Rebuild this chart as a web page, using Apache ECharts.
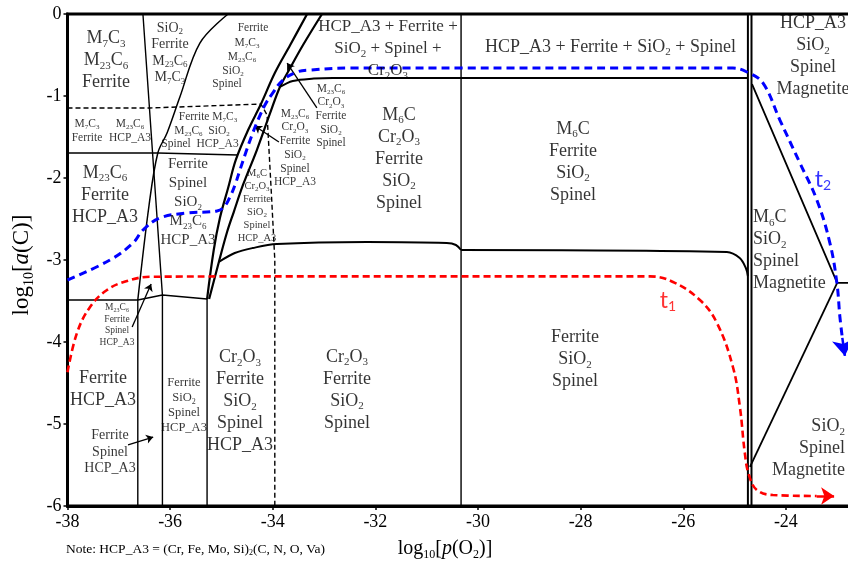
<!DOCTYPE html>
<html>
<head>
<meta charset="utf-8">
<script src="https://cdn.jsdelivr.net/npm/echarts@6/dist/echarts.min.js"></script>
<style>
  html, body { margin: 0; padding: 0; background: #fff; }
  #chart { width: 848px; height: 562px; }
</style>
</head>
<body>
<div id="chart"></div>
<script>
// ---- axis ticks ----
const xTicks = [-38, -36, -34, -32, -30, -28, -26, -24, -22];
const yTicks = [0, -1, -2, -3, -4, -5, -6];

// ---- phase boundaries: [log10 p(O2), log10 a(C)] ----
const wallPhaseA = [[-36.53, 0], [-36.15, -3.43], [-36.15, -6]];
const curvePhaseB = [[-34.87, 0], [-35.42, -0.354], [-35.81, -1.012], [-36.06, -1.451], [-36.24, -1.695], [-36.41, -2.329], [-36.63, -3.488]];
const wallPhaseB = [[-36.63, -3.488], [-36.63, -6]];
const bandLeft = [[-33.33, 0], [-33.66, -0.378], [-33.96, -0.72], [-34.23, -1.098], [-34.48, -1.415], [-34.72, -1.78], [-34.87, -2.122], [-35.03, -2.488], [-35.15, -2.878], [-35.28, -3.476]];
const bandRight = [[-33.04, 0], [-33.41, -0.378], [-33.65, -0.646], [-33.86, -0.89], [-34.05, -1.207], [-34.31, -1.659], [-34.58, -2.085], [-34.76, -2.415], [-34.89, -2.659], [-35.05, -3.024], [-35.24, -3.476]];
const edgeTop = [[-33.86, -0.89], [-33.61, -0.817], [-33.2, -0.788], [-32.83, -0.78], [-24.74, -0.78]];
const edgeMidLeft = [[-35.05, -3.024], [-34.74, -2.915], [-34.39, -2.854], [-33.92, -2.805], [-32.16, -2.78], [-30.61, -2.793], [-30.43, -2.817], [-30.33, -2.878]];
const edgeMidRight = [[-30.33, -2.878], [-25.15, -2.902], [-24.9, -2.976], [-24.78, -3.098], [-24.74, -3.195]];
const edgeLow = [[-38, -3.488], [-36.63, -3.488], [-36.15, -3.427], [-35.28, -3.476]];
const edgeUpper = [[-38, -1.695], [-36.24, -1.695], [-34.68, -1.72]];
const wallC = [[-35.28, -3.476], [-35.28, -6]];
const wallD = [[-30.33, 0], [-30.33, -6]];
const wallMagnetiteA = [[-24.74, 0], [-24.74, -6]];
const wallMagnetiteB = [[-24.67, 0], [-24.67, -6]];
const slopeUpper = [[-24.66, -0.854], [-23.0, -3.28], [-22, -3.28]];
const slopeLower = [[-23.0, -3.28], [-24.7, -5.524]];
const dashedEdge = [[-38, -1.146], [-36.39, -1.146], [-34.23, -1.098], [-34.11, -1.232], [-34.02, -2.268], [-33.96, -3.0], [-33.96, -6]];

// ---- process paths t1 and t2 ----
const pathT1 = [[-38, -4.37], [-37.815, -3.89], [-37.56, -3.573], [-37.23, -3.366], [-36.84, -3.256], [-36.39, -3.205], [-34.4, -3.2], [-26.65, -3.2], [-26.2, -3.268], [-25.675, -3.488], [-25.344, -3.768], [-25.032, -4.305], [-24.896, -4.793], [-24.8, -5.354], [-24.72, -5.622], [-24.565, -5.805], [-24.253, -5.866], [-23.4, -5.878]];
const tipT1 = [[-23.4, -5.878], [-23.06, -5.878]];
const pathT2 = [[-38, -3.244], [-37.172, -3.0], [-36.724, -2.793], [-36.529, -2.634], [-36.198, -2.488], [-35.672, -2.427], [-35.087, -2.402], [-34.95, -2.354], [-34.834, -2.232], [-34.736, -2.085], [-34.639, -1.902], [-34.522, -1.683], [-34.405, -1.476], [-34.288, -1.293], [-34.152, -1.11], [-34.015, -0.976], [-33.801, -0.805], [-33.528, -0.707], [-33.275, -0.683], [-32.495, -0.659], [-25.032, -0.659], [-24.76, -0.707], [-24.448, -0.841], [-24.117, -1.293], [-23.727, -1.817], [-23.396, -2.268], [-23.142, -2.793], [-23.006, -3.28], [-22.947, -3.695], [-22.9, -3.95]];
const tipT2 = [[-22.9, -3.95], [-22.85, -4.17]];
const pathNames = [[-26.3, -3.49, 't₁'], [-23.28, -2.02, 't₂']];

// ---- leader arrows [from, to] ----
const pointers = [
  [[-33.14, -1.146], [-33.72, -0.598]],
  [[-33.88, -1.561], [-34.35, -1.366]],
  [[-36.74, -3.817], [-36.37, -3.293]],
  [[-36.82, -5.256], [-36.33, -5.159]]
];

// ---- phase field labels [x, y, text] ----
const labelsLarge = [
  [-37.25, -0.567, 'M₇C₃\nM₂₃C₆\nFerrite'],
  [-37.27, -2.207, 'M₂₃C₆\nFerrite\nHCP_A3'],
  [-37.308, -4.573, 'Ferrite\nHCP_A3'],
  [-34.639, -4.726, 'Cr₂O₃\nFerrite\nSiO₂\nSpinel\nHCP_A3'],
  [-32.554, -4.585, 'Cr₂O₃\nFerrite\nSiO₂\nSpinel'],
  [-31.541, -1.768, 'M₆C\nCr₂O₃\nFerrite\nSiO₂\nSpinel'],
  [-28.15, -1.805, 'M₆C\nFerrite\nSiO₂\nSpinel'],
  [-28.111, -4.213, 'Ferrite\nSiO₂\nSpinel'],
  [-27.419, -0.402, 'HCP_A3 + Ferrite + SiO₂ + Spinel'],
  [-23.473, -0.518, 'HCP_A3\nSiO₂\nSpinel\nMagnetite']
];
const labelsLargeLeft = [[-24.643, -2.884, 'M₆C\nSiO₂\nSpinel\nMagnetite']];
const labelsLargeRight = [[-22.85, -5.299, 'SiO₂\nSpinel\nMagnetite']];
const labelsWide = [[-31.755, -0.421, 'HCP_A3 + Ferrite +\nSiO₂ + Spinel +\nCr₂O₃']];
const labelsMedium = [[-35.652, -2.299, 'Ferrite\nSpinel\nSiO₂\nM₂₃C₆\nHCP_A3']];
const labelsSmall = [
  [-36.003, -0.476, 'SiO₂\nFerrite\nM₂₃C₆\nM₇C₃'],
  [-37.172, -5.341, 'Ferrite\nSpinel\nHCP_A3']
];
const labelsSmaller = [[-35.73, -4.774, 'Ferrite\nSiO₂\nSpinel\nHCP_A3']];
const labelsTiny = [
  [-34.385, -0.171, 'Ferrite'],
  [-34.502, -0.354, 'M₇C₃'],
  [-34.6, -0.524, 'M₂₃C₆'],
  [-34.775, -0.695, 'SiO₂'],
  [-34.892, -0.854, 'Spinel'],
  [-37.62, -1.427, 'M₇C₃\nFerrite'],
  [-36.782, -1.427, 'M₂₃C₆\nHCP_A3'],
  [-35.262, -1.256, 'Ferrite M₇C₃'],
  [-35.379, -1.427, 'M₂₃C₆  SiO₂'],
  [-35.418, -1.585, 'Spinel  HCP_A3'],
  [-32.866, -1.244, 'M₂₃C₆\nCr₂O₃\nFerrite\nSiO₂\nSpinel'],
  [-33.567, -1.634, 'M₂₃C₆\nCr₂O₃\nFerrite\nSiO₂\nSpinel\nHCP_A3']
];
const labelsMicro = [[-34.307, -2.335, 'M₆C\nCr₂O₃\nFerrite\nSiO₂\nSpinel\nHCP_A3']];
const labelsNano = [[-37.035, -3.793, 'M₂₃C₆\nFerrite\nSpinel\nHCP_A3']];

const noteText = 'Note: HCP_A3 = (Cr, Fe, Mo, Si)₂(C, N, O, Va)';

// ---- helpers ----
const SERIF = '"Liberation Serif", "Times New Roman", serif';
const SANS = 'Lato, "Open Sans", sans-serif';
const SUBS = '₀₁₂₃₄₅₆₇₈₉';

// turn subscript digits into rich-text tokens
function toRich(text) {
  return text.split('\n').map(function (line) {
    let out = '', buf = '', mode = null;
    for (const ch of line) {
      const k = SUBS.indexOf(ch);
      const m = k >= 0 ? 's' : 'n';
      const c = k >= 0 ? String(k) : ch;
      if (m !== mode && buf) { out += '{' + mode + '|' + buf + '}'; buf = ''; }
      mode = m; buf += c;
    }
    if (buf) out += '{' + mode + '|' + buf + '}';
    return out;
  }).join('\n');
}

function richStyles(fs, lh, align, color, family) {
  const sub = Math.round(fs * 0.62);
  return {
    n: { fontSize: fs, lineHeight: lh, fontFamily: family, color: color, fill: color, align: align },
    i: { fontSize: fs, lineHeight: lh, fontFamily: family, color: color, fill: color, align: align, fontStyle: 'italic' },
    s: { fontSize: sub, lineHeight: sub, fontFamily: family, color: color, fill: color, align: align, verticalAlign: 'bottom' }
  };
}

function labelSeries(list, fs, lh, align, color, family) {
  return {
    type: 'scatter',
    silent: true,
    symbolSize: 1,
    z: 20,
    itemStyle: { color: 'transparent' },
    data: list.map(function (d) {
      const txt = toRich(d[2]);
      return {
        value: [d[0], d[1]],
        label: {
          show: true,
          position: 'inside',
          align: align,
          verticalAlign: 'middle',
          formatter: function () { return txt; },
          rich: richStyles(fs, lh, align, color, family || SERIF)
        }
      };
    })
  };
}

function boundary(data, width, opts) {
  opts = opts || {};
  return {
    type: 'line',
    data: data,
    showSymbol: false,
    symbol: 'none',
    silent: true,
    smooth: opts.smooth || false,
    z: 5,
    lineStyle: { color: '#000', width: width, type: opts.dash || 'solid', cap: 'butt' }
  };
}

function tipMark(seg, color, size) {
  return {
    silent: true,
    symbol: ['none', 'arrow'],
    symbolSize: size,
    label: { show: false },
    lineStyle: { color: color, width: 2.5, type: 'solid' },
    data: [[{ coord: seg[0] }, { coord: seg[1] }]]
  };
}

const chart = echarts.init(document.getElementById('chart'), null, { renderer: 'canvas' });

const series = [
  boundary(wallPhaseA, 1.4),
  boundary(curvePhaseB, 1.5, { smooth: 0.35 }),
  boundary(wallPhaseB, 1.4),
  boundary(bandLeft, 2.2, { smooth: 0.35 }),
  boundary(bandRight, 2.2, { smooth: 0.35 }),
  boundary(edgeTop, 2, { smooth: 0.35 }),
  boundary(edgeMidLeft, 2, { smooth: 0.35 }),
  boundary(edgeMidRight, 2, { smooth: 0.35 }),
  boundary(edgeLow, 1.5),
  boundary(edgeUpper, 1.5),
  boundary(wallC, 1.4),
  boundary(wallD, 1.4),
  boundary(wallMagnetiteA, 2),
  boundary(wallMagnetiteB, 2),
  boundary(slopeUpper, 1.8),
  boundary(slopeLower, 1.8),
  boundary(dashedEdge, 1.4, { dash: [5, 3] }),
  {
    type: 'line', data: [], silent: true, symbol: 'none', z: 6,
    markLine: {
      silent: true,
      symbol: ['none', 'arrow'],
      symbolSize: 7,
      label: { show: false },
      lineStyle: { color: '#000', width: 1.3, type: 'solid' },
      data: pointers.map(function (p) { return [{ coord: p[0] }, { coord: p[1] }]; })
    }
  },
  {
    type: 'line', data: pathT1, showSymbol: false, symbol: 'none', silent: true, smooth: 0.4, z: 10,
    lineStyle: { color: '#ff0000', width: 2.6, type: [7, 4], cap: 'butt' },
    markLine: tipMark(tipT1, '#ff0000', 13)
  },
  {
    type: 'line', data: pathT2, showSymbol: false, symbol: 'none', silent: true, smooth: 0.4, z: 10,
    lineStyle: { color: '#0000ff', width: 3, type: [8, 5], cap: 'butt' },
    markLine: tipMark(tipT2, '#0000ff', 16)
  },
  labelSeries(labelsLarge, 18, 22, 'center', '#000'),
  labelSeries(labelsLargeLeft, 18, 22, 'left', '#000'),
  labelSeries(labelsLargeRight, 18, 22, 'right', '#000'),
  labelSeries(labelsWide, 17, 22, 'center', '#000'),
  labelSeries(labelsMedium, 15, 19, 'center', '#000'),
  labelSeries(labelsSmall, 14, 16.5, 'center', '#000'),
  labelSeries(labelsSmaller, 12.5, 15, 'center', '#000'),
  labelSeries(labelsTiny, 11.5, 13.7, 'center', '#000'),
  labelSeries(labelsMicro, 10.5, 13, 'center', '#000'),
  labelSeries(labelsNano, 9.5, 11.4, 'center', '#000'),
  labelSeries([pathNames[0]], 23, 26, 'center', '#ff0000', SANS),
  labelSeries([pathNames[1]], 23, 26, 'center', '#0000ff', SANS)
];

chart.setOption({
  animation: false,
  backgroundColor: '#fff',
  grid: {
    left: 67.5, top: 14, width: 821, height: 492,
    show: true, borderColor: '#000', borderWidth: 3,
    containLabel: false, outerBoundsMode: 'none'
  },
  xAxis: {
    type: 'value',
    min: xTicks[0], max: xTicks[xTicks.length - 1], interval: xTicks[1] - xTicks[0],
    axisLine: { show: true, onZero: false, lineStyle: { color: '#000', width: 3 } },
    axisTick: { show: true, inside: false, length: 4, lineStyle: { color: '#000', width: 1.5 } },
    axisLabel: { color: '#000', fontFamily: SERIF, fontSize: 18, margin: 7 },
    splitLine: { show: false }
  },
  yAxis: {
    type: 'value',
    min: yTicks[yTicks.length - 1], max: yTicks[0], interval: yTicks[0] - yTicks[1],
    axisLine: { show: true, onZero: false, lineStyle: { color: '#000', width: 3 } },
    axisTick: { show: true, inside: false, length: 4, lineStyle: { color: '#000', width: 1.5 } },
    axisLabel: { color: '#000', fontFamily: SERIF, fontSize: 18, margin: 6 },
    splitLine: { show: false }
  },
  graphic: [
    {
      type: 'text', x: 445, y: 549, silent: true,
      style: {
        text: '{n|log}{s|10}{n|[}{i|p}{n|(O}{s|2}{n|)]}',
        rich: richStyles(20, 24, 'center', '#000', SERIF),
        align: 'center', verticalAlign: 'middle'
      }
    },
    {
      type: 'text', x: 22, y: 265, rotation: Math.PI / 2, silent: true,
      style: {
        text: '{n|log}{s|10}{n|[}{i|a}{n|(C)]}',
        rich: richStyles(23, 28, 'center', '#000', SERIF),
        align: 'center', verticalAlign: 'middle'
      }
    },
    {
      type: 'text', x: 66, y: 549, silent: true,
      style: {
        text: toRich(noteText),
        rich: richStyles(13.5, 16, 'left', '#000', SERIF),
        align: 'left', verticalAlign: 'middle'
      }
    }
  ],
  series: series
});
</script>
</body>
</html>
